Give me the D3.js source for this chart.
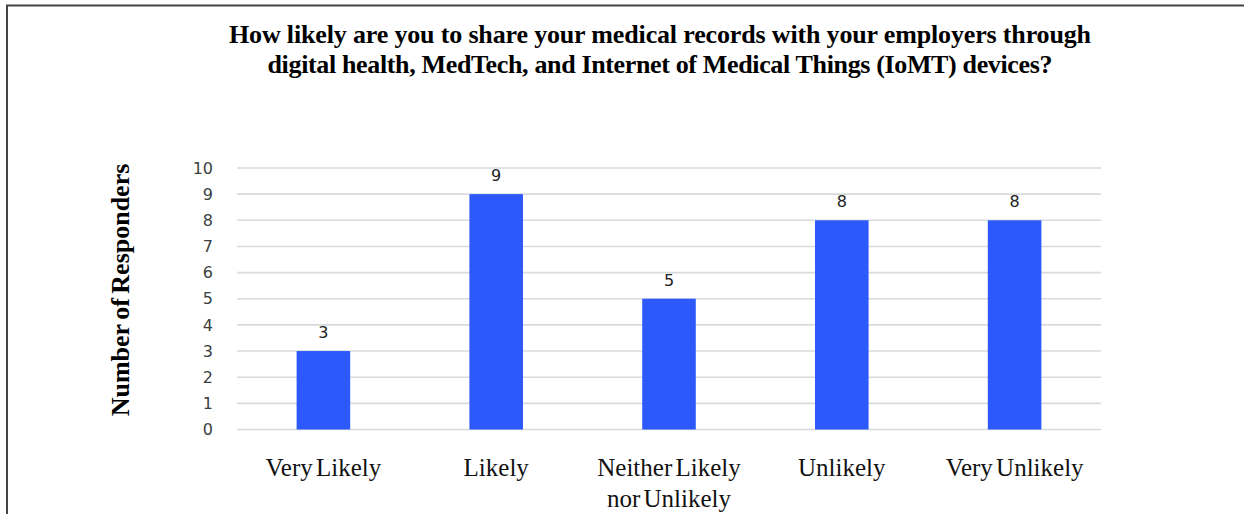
<!DOCTYPE html>
<html><head><meta charset="utf-8">
<script src="https://cdn.jsdelivr.net/npm/d3@7"></script>
<style>body{margin:0;background:#fff}svg{display:block}</style>
</head><body>
<svg id="c" width="1244" height="514"></svg>
<script>
const categories = ["Very Likely", "Likely", "Neither Likely|nor Unlikely", "Unlikely", "Very Unlikely"];
const values = [3, 9, 5, 8, 8];
const yTicks = [0,1,2,3,4,5,6,7,8,9,10];
const titleLines = ["How likely are you to share your medical records with your employers through",
                    "digital health, MedTech, and Internet of Medical Things (IoMT) devices?"];
const titleWidths = [862, 785];
const yTitle = "Number of Responders";

const svg = d3.select("#c");
// frame
svg.append("path").attr("d","M7,514 V5.5 H1244").attr("fill","none").attr("stroke","#444").attr("stroke-width",2);

const x = d3.scaleBand().domain(categories).range([237,1101]).paddingInner(0.69).paddingOuter(0.345);
const y = d3.scaleLinear().domain([0,10]).range([429.5,168]);

// grid
svg.append("g").selectAll("line").data(yTicks).join("line")
  .attr("x1",237).attr("x2",1101).attr("y1",d=>y(d)).attr("y2",d=>y(d))
  .attr("stroke","#d6dbdb").attr("stroke-width",1.6);

// y axis labels
const ya = svg.append("g").attr("transform","translate(213,0)")
  .call(d3.axisLeft(y).tickValues(yTicks).tickSize(0).tickPadding(0));
ya.select(".domain").remove();
ya.selectAll("text").attr("font-family","DejaVu Sans").attr("font-size",16).attr("fill","#3a3f3f");

// bars
svg.append("g").selectAll("rect").data(values).join("rect")
  .attr("x",(d,i)=>x(categories[i])).attr("width",x.bandwidth())
  .attr("y",d=>y(d)).attr("height",d=>y(0)-y(d))
  .attr("fill","#2d59fc");

// data labels
svg.append("g").selectAll("text").data(values).join("text")
  .attr("x",(d,i)=>x(categories[i])+x.bandwidth()/2).attr("y",d=>y(d)-13)
  .attr("text-anchor","middle").attr("font-family","DejaVu Sans").attr("font-size",16)
  .attr("fill","#222").text(d=>d);

// category labels
const xa = svg.append("g").attr("transform","translate(0,429.5)")
  .call(d3.axisBottom(x).tickSize(0).tickPadding(0));
xa.select(".domain").remove();
xa.selectAll("text").each(function(d){
  const t = d3.select(this).text("").attr("y",0).attr("dy",null)
    .attr("font-family","Liberation Serif").attr("font-size",25).attr("word-spacing",-3).attr("fill","#111");
  d.split("|").forEach((s,i)=>t.append("tspan").attr("x",0).attr("y",46+i*31).text(s));
});

// title
svg.append("g").selectAll("text").data(titleLines).join("text")
  .attr("x",660).attr("y",(d,i)=>43+i*30).attr("text-anchor","middle")
  .attr("font-family","Liberation Serif").attr("font-weight","bold").attr("font-size",26)
  .attr("textLength",(d,i)=>titleWidths[i]).attr("lengthAdjust","spacing")
  .attr("fill","#000").text(d=>d);

// y title
svg.append("text").attr("transform","translate(129,290) rotate(-90)")
  .attr("text-anchor","middle").attr("font-family","Liberation Serif").attr("font-weight","bold")
  .attr("font-size",26).attr("word-spacing",-2).attr("fill","#000").text(yTitle);
</script>
</body></html>
